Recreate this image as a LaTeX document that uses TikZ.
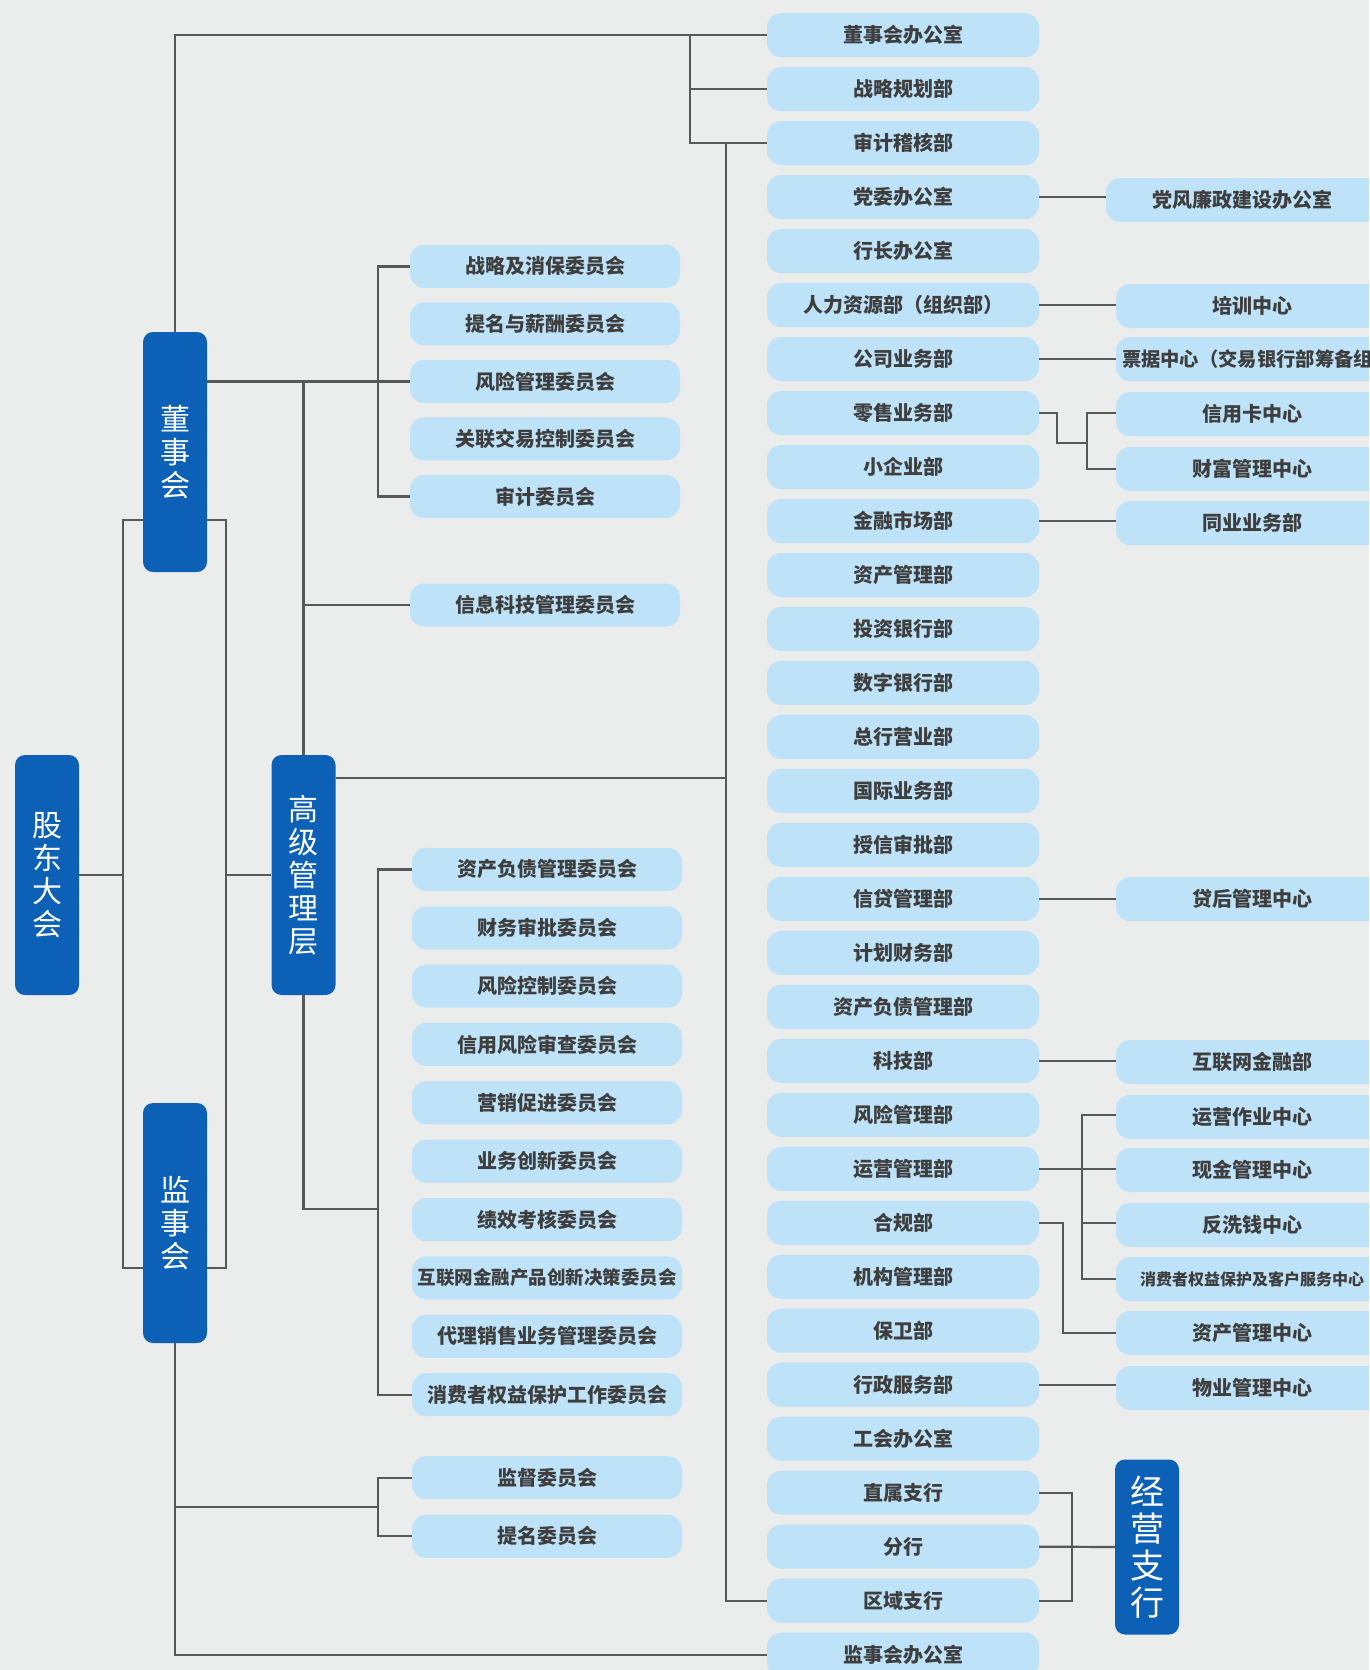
\documentclass[tikz,border=0pt]{standalone}
\usepackage{fontspec}
\setmainfont{Noto Sans CJK SC}
\definecolor{bgc}{RGB}{235,236,236}
\definecolor{lbc}{RGB}{190,227,248}
\definecolor{dbc}{RGB}{12,97,182}
\definecolor{lnc}{RGB}{88,88,88}
\definecolor{txc}{RGB}{62,62,62}
\tikzset{
  lbox/.style={draw=none, fill=lbc, rounded corners=14pt, minimum width=272pt, minimum height=44pt, inner sep=0pt, text=txc, font=\fontsize{20}{22}\selectfont\bfseries},
  cbox/.style={lbox, minimum width=270pt, minimum height=43pt},
  bigbox/.style={fill=dbc, rounded corners=10pt, minimum width=64pt, minimum height=240pt, inner sep=0pt, text=white, align=center, font=\fontsize{30}{33}\selectfont},
  conn/.style={draw=lnc, line width=2.2pt},
}
\begin{document}
\begin{tikzpicture}[x=1pt,y=-1pt]
\fill[bgc] (0,0) rectangle (1369,1670);
\useasboundingbox (0,0) rectangle (1369,1670);
\clip (0,0) rectangle (1369,1670);

% main dark boxes
\node[bigbox] (gd) at (47,875) {股\\东\\大\\会};
\node[bigbox] (dsh) at (175,452) {董\\事\\会};
\node[bigbox] (jsh) at (175,1223) {监\\事\\会};
\node[bigbox] (gj) at (303.5,875) {高\\级\\管\\理\\层};
\node[bigbox, minimum height=175pt, font=\fontsize{34}{37}\selectfont] (jy) at (1147,1547) {经\\营\\支\\行};

% departments
\foreach \t [count=\i from 0] in {董事会办公室,战略规划部,审计稽核部,党委办公室,行长办公室,人力资源部（组织部）,公司业务部,零售业务部,小企业部,金融市场部,资产管理部,投资银行部,数字银行部,总行营业部,国际业务部,授信审批部,信贷管理部,计划财务部,资产负债管理部,科技部,风险管理部,运营管理部,合规部,机构管理部,保卫部,行政服务部,工会办公室,直属支行,分行,区域支行,监事会办公室}
  \node[lbox] (d\i) at (903,{35.2+\i*53.98}) {\t};

% board committees
\foreach \t [count=\i from 0] in {战略及消保委员会,提名与薪酬委员会,风险管理委员会,关联交易控制委员会,审计委员会}
  \node[cbox] (bc\i) at (545,{266.4+\i*57.53}) {\t};
\node[cbox] (it) at (545,605) {信息科技管理委员会};

% senior management committees
\foreach \t [count=\i from 0] in {资产负债管理委员会,财务审批委员会,风险控制委员会,信用风险审查委员会,营销促进委员会,业务创新委员会,绩效考核委员会,{\fontsize{18.5}{20}\selectfont 互联网金融产品创新决策委员会},代理销售业务管理委员会,消费者权益保护工作委员会}
  \node[cbox] (sc\i) at (547,{869.4+\i*58.36}) {\t};

% supervisory committees
\node[cbox] (jc0) at (547,1477.7) {监督委员会};
\node[cbox] (jc1) at (547,1536.3) {提名委员会};

% right-hand boxes
\node[lbox] (r3) at (1242,200) {党风廉政建设办公室};
\node[lbox] (r5) at (1252,306) {培训中心};
\node[lbox, text width=260pt, align=left, font=\fontsize{19.3}{22}\selectfont\bfseries] (r6) at (1252,359.1) {票据中心（交易银行部筹备组）};
\node[lbox] (r7) at (1252,414) {信用卡中心};
\node[lbox] (r8) at (1252,469) {财富管理中心};
\node[lbox] (r9) at (1252,523) {同业业务部};
\node[lbox] (r16) at (1252,899) {贷后管理中心};
\node[lbox] (r19) at (1252,1062) {互联网金融部};
\node[lbox] (r20) at (1252,1117) {运营作业中心};
\node[lbox] (r21) at (1252,1170) {现金管理中心};
\node[lbox] (r22) at (1252,1225) {反洗钱中心};
\node[lbox, font=\fontsize{16}{18}\selectfont\bfseries] (r23) at (1252,1279) {消费者权益保护及客户服务中心};
\node[lbox] (r24) at (1252,1333) {资产管理中心};
\node[lbox] (r25) at (1252,1388) {物业管理中心};

% helper coordinates
\coordinate (xL) at (123,0);
\coordinate (xR) at (226,0);
\coordinate (xC) at (378,0);
\coordinate (xT) at (690,0);
\coordinate (xD) at (726,0);
\coordinate (yB) at (0,520);
\coordinate (yS) at (0,1268);
\coordinate (yM) at (0,778);
\coordinate (yG) at (0,1209);
\coordinate (yJ) at (0,1507);
\coordinate (xE) at (1087,0);
\coordinate (yE) at (0,443);
\coordinate (xE0) at (1057,0);
\coordinate (xF) at (1082,0);
\coordinate (xG) at (1063,0);
\coordinate (xH) at (1072,0);

% left structure
\draw[conn] (gd.east) -- (gd.east -| xL);
\draw[conn] (dsh.west |- yB) -| (xL |- yS) -- (jsh.west |- yS);
\draw[conn] (dsh.east |- yB) -| (xR |- yS) -- (jsh.east |- yS);
\draw[conn] (gj.west) -- (gj.west -| xR);

% board to offices
\draw[conn] (dsh.north) |- (d0.west);
\draw[conn] (d0.west -| xT) |- (d2.west);
\draw[conn] (d1.west) -- (d1.west -| xT);
\draw[conn] (d2.west -| xD) |- (d29.west);
\draw[conn] (gj.east |- yM) -- (xD |- yM);

% board committees
\draw[conn] (dsh.east |- bc2.west) -- (bc2.west);
\draw[conn] (bc0.west) -| (xC |- bc4.west) -- (bc4.west);
\draw[conn] (gj.north) -- (gj.north |- bc2.west);
\draw[conn] (it.west) -- (it.west -| gj.north);

% senior committees
\draw[conn] (gj.south) |- (xC |- yG);
\draw[conn] (sc0.west) -| (xC |- sc9.west) -- (sc9.west);

% supervisory
\draw[conn] (jsh.south) |- (d30.west);
\draw[conn] (jsh.south |- yJ) -- (xC |- yJ);
\draw[conn] (jc0.west) -| (xC |- jc1.west) -- (jc1.west);

% right side
\draw[conn] (d3.east) -- (d3.east -| r3.west);
\draw[conn] (d5.east) -- (d5.east -| r5.west);
\draw[conn] (d6.east) -- (d6.east -| r5.west);
\draw[conn] (d7.east) -| (xE0 |- yE) -- (xE |- yE);
\draw[conn] (d7.east -| r7.west) -| (xE |- r8.west) -- (r8.west);
\draw[conn] (d9.east) -- (d9.east -| r9.west);
\draw[conn] (d16.east) -- (d16.east -| r16.west);
\draw[conn] (d19.east) -- (d19.east -| r19.west);
\draw[conn] (d21.east) -- (d21.east -| r21.west);
\draw[conn] (d20.east -| r20.west) -| (xF |- r23.west) -- (r23.west);
\draw[conn] (d22.east -| r22.west) -- (d22.east -| xF);
\draw[conn] (d22.east) -| (xG |- r24.west) -- (r24.west);
\draw[conn] (d25.east) -- (d25.east -| r25.west);
\draw[conn] (d27.east) -| (xH |- d29.east) -- (d29.east);
\draw[conn] (d28.east) -- (jy.west);
\end{tikzpicture}
\end{document}
